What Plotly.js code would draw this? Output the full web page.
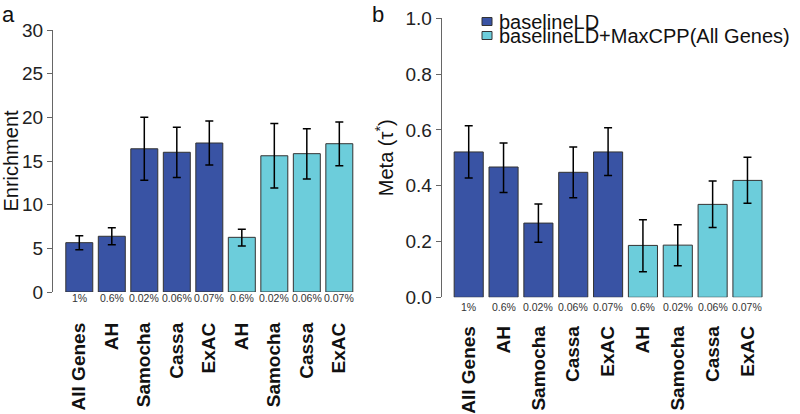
<!DOCTYPE html>
<html>
<head>
<meta charset="utf-8">
<script src="https://cdn.plot.ly/plotly-3.0.1.min.js"></script>
<style>html,body{margin:0;padding:0;background:#fff;}#chart{width:800px;height:414px;}</style>
</head>
<body>
<div id="chart"></div>
<script>
// ---- data ----
const categories = ['All Genes','AH','Samocha','Cassa','ExAC','AH','Samocha','Cassa','ExAC'];
const percents = ['1%','0.6%','0.02%','0.06%','0.07%','0.6%','0.02%','0.06%','0.07%'];
const seriesNames = ['baselineLD','baselineLD+MaxCPP(All Genes)'];
const group = [0,0,0,0,0,1,1,1,1];
const enrichment = [5.65,6.38,16.4,16.0,17.06,6.26,15.6,15.84,16.98];
const enrichmentHi = [6.45,7.37,20.0,18.86,19.58,7.18,19.3,18.7,19.47];
const enrichmentLo = [4.85,5.42,12.8,13.1,14.54,5.27,11.9,12.94,14.46];
const tau = [0.521,0.467,0.266,0.448,0.521,0.186,0.187,0.333,0.419];
const tauHi = [0.615,0.553,0.334,0.539,0.608,0.278,0.260,0.417,0.502];
const tauLo = [0.428,0.376,0.197,0.357,0.437,0.092,0.113,0.250,0.337];
const yTicksA = [0,5,10,15,20,25,30];
const yTicksB = [0,0.2,0.4,0.6,0.8,1.0];

// ---- styling ----
const colors = ['#3953a4','#6ccddb'];
const FONT = 'Liberation Sans, Arial, Helvetica, sans-serif';
const W = 800, H = 414;
const px = v => v / W;
const py = v => 1 - v / H;
const xs = categories.map((_, i) => i);

function bars(vals, hi, lo, xa, ya, width) {
  return {
    type: 'bar', x: xs, y: vals, xaxis: xa, yaxis: ya, width: width,
    marker: { color: group.map(g => colors[g]), line: { color: '#333', width: 1 } },
    error_y: { type: 'data', symmetric: false,
      array: hi.map((h, i) => h - vals[i]),
      arrayminus: lo.map((l, i) => vals[i] - l),
      color: '#000', thickness: 1.5, width: 4 },
    showlegend: false, hoverinfo: 'skip'
  };
}

const data = [
  bars(enrichment, enrichmentHi, enrichmentLo, 'x', 'y', 0.83),
  bars(tau, tauHi, tauLo, 'x2', 'y2', 0.835)
];

const yCommon = {
  showline: true, linecolor: '#666', linewidth: 1, ticks: 'outside', ticklen: 5,
  tickcolor: '#666', showgrid: false, zeroline: false,
  tickfont: { family: FONT, size: 19, color: '#222' }, fixedrange: true
};
const xCommon = {
  showline: false, showgrid: false, zeroline: false, ticks: '', tickangle: -90,
  tickvals: xs, ticktext: categories,
  tickfont: { family: FONT, size: 19, color: '#111', weight: 'bold' }, fixedrange: true
};

const annotations = [];
percents.forEach((p, i) => {
  annotations.push({ text: p, x: i, xref: 'x', y: py(297.5), yref: 'paper', showarrow: false,
    xanchor: 'center', yanchor: 'middle', font: { family: FONT, size: 10.5, color: '#333' } });
  annotations.push({ text: p, x: i, xref: 'x2', y: py(306.5), yref: 'paper', showarrow: false,
    xanchor: 'center', yanchor: 'middle', font: { family: FONT, size: 10.5, color: '#333' } });
});
annotations.push({ text: 'a', x: px(0), y: py(0), xref: 'paper', yref: 'paper', xanchor: 'left', yanchor: 'top',
  showarrow: false, font: { family: FONT, size: 22, color: '#111' } });
annotations.push({ text: 'b', x: px(370), y: py(0), xref: 'paper', yref: 'paper', xanchor: 'left', yanchor: 'top',
  showarrow: false, font: { family: FONT, size: 22, color: '#111' } });
// legend
const legendY = [21.5, 35.5];
seriesNames.forEach((name, k) => {
  annotations.push({ text: name, x: px(497), y: py(legendY[k]), xref: 'paper', yref: 'paper',
    xanchor: 'left', yanchor: 'middle', showarrow: false,
    font: { family: FONT, size: 20, color: '#111' } });
});
const shapes = seriesNames.map((name, k) => ({
  type: 'rect', xref: 'paper', yref: 'paper',
  x0: px(482), x1: px(492), y0: py(legendY[k] + 4), y1: py(legendY[k] - 4),
  fillcolor: colors[k], line: { color: '#333', width: 1 }
}));

const layout = {
  width: W, height: H, margin: { l: 0, r: 0, t: 0, b: 0 },
  paper_bgcolor: '#fff', plot_bgcolor: '#fff', bargap: 0,
  font: { family: FONT },
  xaxis: Object.assign({}, xCommon, { domain: [px(53), px(365)], range: [-0.809, 8.79], anchor: 'y', ticklabelstandoff: 26 }),
  yaxis: Object.assign({}, yCommon, { domain: [py(292), py(30)], range: [0, 30], tickvals: yTicksA, anchor: 'x',
    title: { text: 'Enrichment', font: { family: FONT, size: 20, color: '#111' }, standoff: 7 } }),
  xaxis2: Object.assign({}, xCommon, { domain: [px(441.7), px(775)], range: [-0.775, 8.79], anchor: 'y2', ticklabelstandoff: 24 }),
  yaxis2: Object.assign({}, yCommon, { domain: [py(297.3), py(18.3)], range: [0, 1], tickvals: yTicksB, tickformat: '.1f', anchor: 'x2',
    title: { text: 'Meta (τ<sup>*</sup>)', font: { family: FONT, size: 20, color: '#111' }, standoff: 6 } }),
  annotations: annotations, shapes: shapes
};

Plotly.newPlot('chart', data, layout, { staticPlot: true, displayModeBar: false });
</script>
</body>
</html>
